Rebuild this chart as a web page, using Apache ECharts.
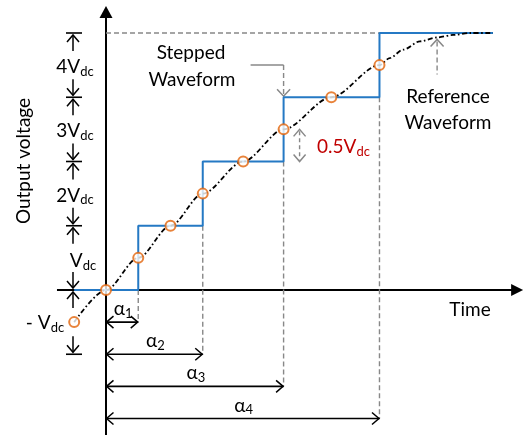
<!DOCTYPE html>
<html>
<head>
<meta charset="utf-8">
<script src="https://cdn.jsdelivr.net/npm/echarts@6/dist/echarts.min.js"></script>
<style>
  html, body { margin: 0; padding: 0; background: #fff; }
  #main { width: 525px; height: 435px; }
</style>
</head>
<body>
<div id="main"></div>
<script>
// switching angles of the stepped waveform (x in degrees)
var alphas = [7.5, 22.5, 41.3, 63.6];

// stepped waveform (levels in Vdc)
var stepX = [-7.4, 7.5, 22.5, 41.3, 63.6, 90];
var stepY = [0, 1, 2, 3, 4, 4];

// reference waveform
var refX = [-7.4, 0, 7.5, 15.0, 22.5, 31.9, 41.3, 52.4, 63.6, 66.0, 69.1, 73.0, 77.0, 80.7, 84.7, 90];
var refY = [-0.5, 0, 0.5, 1, 1.5, 2, 2.5, 3, 3.5, 3.61, 3.74, 3.87, 3.93, 3.97, 4.0, 4.0];

// sample points on the reference (orange circles)
var dotX = [-7.4, 0, 7.5, 15.0, 22.5, 31.9, 41.3, 52.4, 63.6];
var dotY = [-0.5, 0, 0.5, 1, 1.5, 2, 2.5, 3, 3.5];

// voltage levels and the labels between them
var levels = [-1, 0, 1, 2, 3, 4];
var levelLabels = ['- V', 'V', '2V', '3V', '4V'];

var FONT = 'Lato, "Noto Sans", sans-serif';
var BLUE = '#2579c4';
var ORANGE = '#e2640a';
var GRAY = '#888';
var INK = '#000';

var zip = function (xs, ys) {
  return xs.map(function (x, i) { return [x, ys[i]]; });
};

var chart = echarts.init(document.getElementById('main'));

chart.setOption({
  animation: false,
  grid: { left: 0.65, right: 0.18, top: 0.875, bottom: 0.44 },
  xAxis: { type: 'value', min: -24.5, max: 97.4, show: false },
  yAxis: { type: 'value', min: -2.25, max: 4.5, show: false },
  series: [
    {
      name: 'Stepped',
      type: 'line',
      step: 'end',
      data: zip(stepX, stepY),
      symbol: 'none',
      lineStyle: { color: BLUE, width: 2 },
      z: 3
    },
    {
      name: 'Reference',
      type: 'line',
      smooth: 0.3,
      smoothMonotone: 'x',
      data: zip(refX, refY),
      symbol: 'none',
      lineStyle: { color: INK, width: 1.8, type: [5, 2.5, 1.6, 2.5] },
      z: 4
    },
    {
      name: 'Samples',
      type: 'scatter',
      data: zip(dotX, dotY),
      symbol: 'circle',
      symbolSize: 10,
      itemStyle: { color: '#fff', borderColor: ORANGE, borderWidth: 2 },
      z: 5
    }
  ]
});

var px = function (x, y) {
  return chart.convertToPixel({ gridIndex: 0 }, [x, y]);
};

var g = [];

var line = function (x1, y1, x2, y2, color, width, dash) {
  g.push({
    type: 'line', z: 1,
    shape: { x1: x1, y1: y1, x2: x2, y2: y2 },
    style: { stroke: color, lineWidth: width, lineDash: dash || null }
  });
};

// open "V" head, tip at (tx,ty), pointing along (dx,dy)
var head = function (tx, ty, dx, dy, color, len, half) {
  var l = Math.sqrt(dx * dx + dy * dy);
  dx /= l; dy /= l;
  var bx = tx - dx * len, by = ty - dy * len;
  g.push({
    type: 'polyline', z: 2,
    shape: { points: [[bx - dy * half, by + dx * half], [tx, ty], [bx + dy * half, by - dx * half]] },
    style: { stroke: color, lineWidth: 1.5, fill: null }
  });
};

var text = function (x, y, str, opts) {
  opts = opts || {};
  var size = opts.size || 19;
  var col = opts.color || INK;
  g.push({
    type: 'text', z: 6,
    x: x, y: y,
    rotation: opts.rotation || 0,
    style: {
      text: str,
      fontFamily: FONT,
      fontSize: size,
      fill: col,
      align: opts.align || 'center',
      verticalAlign: 'middle',
      rich: {
        m: { fontFamily: FONT, fontSize: size, fill: col },
        s: { fontFamily: FONT, fontSize: 13, fill: col, padding: [9, 0, 0, 0] }
      }
    }
  });
};

var o = px(0, 0);
var W = chart.getWidth(), H = chart.getHeight();

// axes
var xEnd = px(97, 0)[0], xStart = px(-11.4, 0)[0];
line(xStart, o[1], xEnd - 8, o[1], INK, 2);
g.push({ type: 'polygon', z: 2, shape: { points: [[xEnd, o[1]], [xEnd - 12, o[1] - 6], [xEnd - 12, o[1] + 6]] }, style: { fill: INK } });
var yTop = px(0, 4.42)[1];
line(o[0], H, o[0], yTop + 8, INK, 2);
g.push({ type: 'polygon', z: 2, shape: { points: [[o[0], yTop], [o[0] - 6.5, yTop + 12], [o[0] + 6.5, yTop + 12]] }, style: { fill: INK } });

// top dashed guide at 4Vdc
var p4 = px(0, 4), pa4 = px(alphas[3], 4);
line(p4[0], p4[1], pa4[0], pa4[1], GRAY, 1.4, [5, 3]);

// switching-angle drop lines and dimension arrows
alphas.forEach(function (a, i) {
  var top = px(a, i);
  var bot = px(a, -(i + 1) / 2);
  line(top[0], top[1], bot[0], bot[1], GRAY, 1.4, [5, 3]);
  var y = bot[1];
  line(o[0], y, bot[0], y, INK, 1.6);
  head(o[0] + 0.5, y, -1, 0, INK, 7, 6);
  head(bot[0] - 0.5, y, 1, 0, INK, 7, 6);
  text((o[0] + bot[0]) / 2 + 1, y - 13, '{m|α}{s|' + (i + 1) + '}');
});

// level brackets on the left
var bx = o[0] - 33;
levels.forEach(function (lv) {
  var p = px(0, lv);
  if (lv !== 0) line(bx - 7, p[1], bx + 9, p[1], INK, 1.6);
});
levelLabels.forEach(function (lab, i) {
  var t = px(0, levels[i + 1])[1];
  var b = px(0, levels[i])[1];
  line(bx, t + 2, bx, t + 18, INK, 1.5);
  head(bx, t + 2, 0, -1, INK, 7, 6);
  line(bx, b - 2, bx, b - 18, INK, 1.5);
  head(bx, b - 2, 0, 1, INK, 7, 6);
  var mid = (t + b) / 2;
  if (i === 0) {
    text(45, mid + 1, '{m|' + lab + '}{s|dc}');
  } else if (i === 1) {
    text(bx + 10, mid + 3, '{m|' + lab + '}{s|dc}');
  } else {
    text(bx + 2, mid + 2, '{m|' + lab + '}{s|dc}');
  }
});

// "Stepped Waveform" pointer
var ps = px(alphas[2], 3.5), pst = px(alphas[2], 3);
line(ps[0] - 33, ps[1], ps[0], ps[1], GRAY, 1.5);
line(ps[0], ps[1], ps[0], pst[1] - 2, GRAY, 1.4, [5, 3]);
head(ps[0], pst[1] - 1, 0, 1, GRAY, 7, 6.5);
text(191, 53, 'Stepped');
text(192, 80, 'Waveform');

// "Reference Waveform" pointer
var pr = px(77, 3.9);
line(pr[0], pr[1] + 2, pr[0], pr[1] + 35, GRAY, 1.4, [5, 3]);
head(pr[0], pr[1], 0, -1, GRAY, 7, 6.5);
text(448, 97, 'Reference');
text(448, 123, 'Waveform');

// 0.5Vdc spacing marker
var h1 = px(alphas[2], 2.5), h2 = px(alphas[2], 2);
var hx = h1[0] + 16;
line(hx, h1[1] + 2, hx, h2[1] - 2, GRAY, 1.4, [4, 3]);
head(hx, h1[1], 0, -1, GRAY, 7, 6);
head(hx, h2[1], 0, 1, GRAY, 7, 6);
text(317, 147, '{m|0.5V}{s|dc}', { color: '#c00000', align: 'left' });

// axis titles
text(470, 310, 'Time');
text(24, 161, 'Output voltage', { rotation: Math.PI / 2 });

chart.setOption({ graphic: { elements: g } });
</script>
</body>
</html>
